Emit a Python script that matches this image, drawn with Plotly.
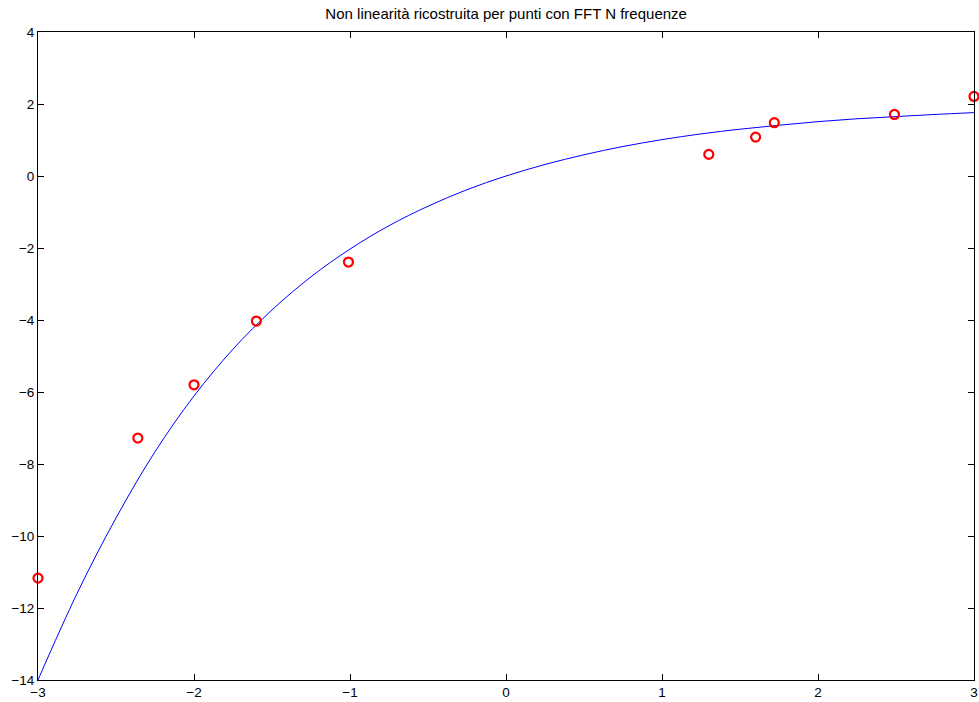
import plotly.graph_objects as go

# Reconstructed curve
curve_x = [-3.0, -2.75, -2.5, -2.25, -2.0, -1.75, -1.5, -1.25, -1.0, -0.75, -0.5, -0.25,
           0.0, 0.25, 0.5, 0.75, 1.0, 1.25, 1.5, 1.75, 2.0, 2.25, 2.5, 2.75, 3.0]
curve_y = [-14.0, -11.6, -9.5, -7.66, -6.11, -4.81, -3.72, -2.80, -2.03, -1.38, -0.84, -0.38,
           0.0, 0.32, 0.59, 0.82, 1.01, 1.17, 1.30, 1.41, 1.51, 1.59, 1.65, 1.71, 1.76]

# Measured points
pts_x = [-3.0, -2.36, -2.0, -1.6, -1.01, 1.30, 1.60, 1.72, 2.49, 3.0]
pts_y = [-11.17, -7.28, -5.8, -4.03, -2.39, 0.60, 1.08, 1.48, 1.71, 2.21]

x_ticks = [-3, -2, -1, 0, 1, 2, 3]
y_ticks = [-14, -12, -10, -8, -6, -4, -2, 0, 2, 4]

fig = go.Figure()
fig.add_trace(go.Scatter(x=curve_x, y=curve_y, mode="lines",
                         line=dict(color="#0000ff", width=1, shape="spline"),
                         showlegend=False))
fig.add_trace(go.Scatter(x=pts_x, y=pts_y, mode="markers",
                         marker=dict(symbol="circle-open", size=9, color="#ff0000",
                                     line=dict(width=2.2, color="#ff0000")),
                         cliponaxis=False, showlegend=False))

axis_common = dict(showline=True, linecolor="black", linewidth=1, mirror="ticks",
                   ticks="inside", ticklen=6, tickcolor="black", showgrid=False,
                   zeroline=False, automargin=False,
                   tickfont=dict(family="Liberation Sans, Arial", size=13.5, color="black"))

fig.update_layout(
    width=979, height=702,
    margin=dict(l=38, r=5, t=32, b=22),
    paper_bgcolor="white", plot_bgcolor="white",
    title=dict(text="Non linearità ricostruita per punti con FFT N frequenze",
               x=0.517, xanchor="center", y=0.981, yanchor="middle", yref="container",
               font=dict(family="Liberation Sans, Arial", size=15, color="black")),
    xaxis=dict(range=[-3, 3], tickvals=x_ticks, **axis_common),
    yaxis=dict(range=[-14, 4], tickvals=y_ticks, **axis_common),
)

fig.write_html("out.html")
